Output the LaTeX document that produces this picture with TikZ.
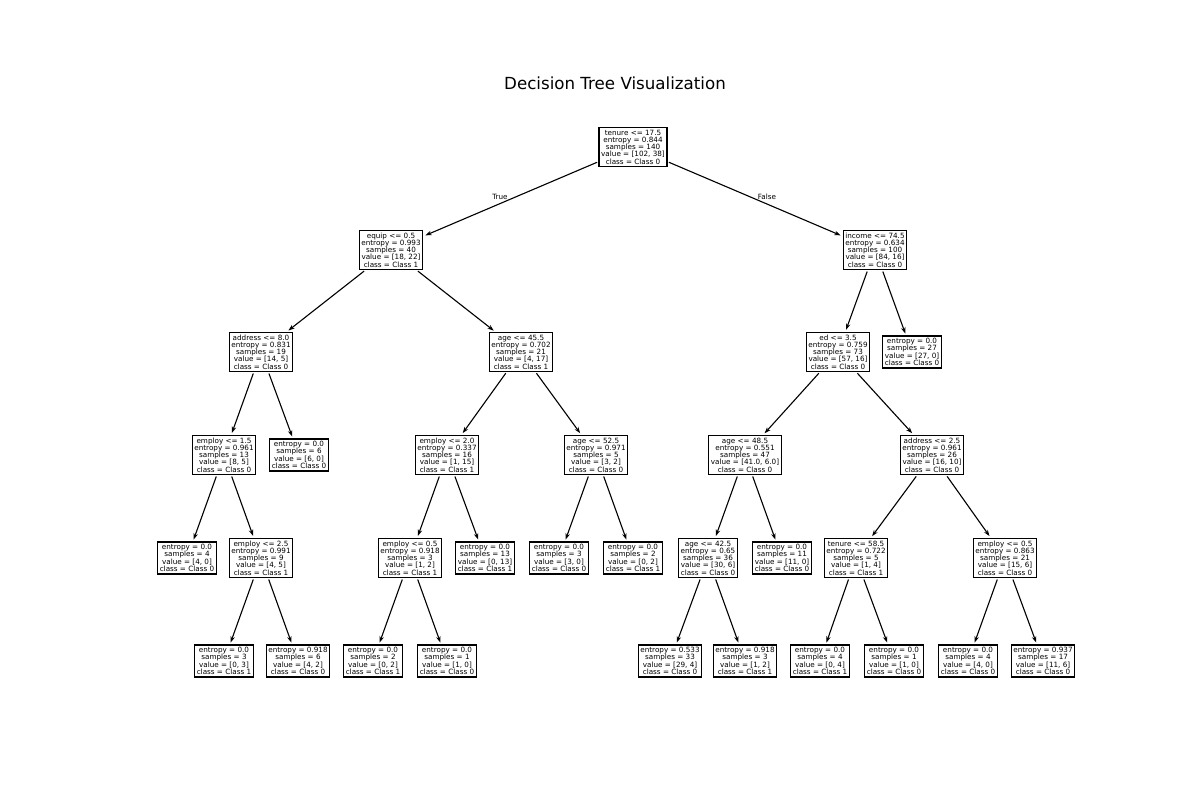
\documentclass[tikz,border=0pt]{standalone}
\usepackage{fontspec}
\setmainfont{DejaVu Sans}
\usetikzlibrary{arrows.meta}
\begin{document}
\begin{tikzpicture}[x=0.72pt,y=-0.72pt,
  tbox/.style={draw=black,line width=0.9pt,fill=white,inner sep=1.6pt,align=center,
    font=\fontsize{5.2}{5.25}\selectfont},
  edge/.style={line width=0.8pt,-{Stealth[length=4.5pt,width=3.2pt]},shorten >=1.5pt,shorten <=1pt},
  elabel/.style={font=\fontsize{5.2}{6}\selectfont,inner sep=0pt}]
\useasboundingbox (0,0) rectangle (1200,800);

\node[font=\fontsize{12}{14}\selectfont] (title) at (615,83) {Decision Tree Visualization};

% level 0
\node[tbox] (n0) at (633,147) {tenure <= 17.5\\entropy = 0.844\\samples = 140\\value = [102, 38]\\class = Class 0};
% level 1
\node[tbox] (n1) at (391,250) {equip <= 0.5\\entropy = 0.993\\samples = 40\\value = [18, 22]\\class = Class 1};
\node[tbox] (n2) at (875,250) {income <= 74.5\\entropy = 0.634\\samples = 100\\value = [84, 16]\\class = Class 0};
% level 2
\node[tbox] (n3) at (261,352) {address <= 8.0\\entropy = 0.831\\samples = 19\\value = [14, 5]\\class = Class 0};
\node[tbox] (n4) at (521,352) {age <= 45.5\\entropy = 0.702\\samples = 21\\value = [4, 17]\\class = Class 1};
\node[tbox] (n5) at (838,352) {ed <= 3.5\\entropy = 0.759\\samples = 73\\value = [57, 16]\\class = Class 0};
\node[tbox] (n6) at (912,352) {entropy = 0.0\\samples = 27\\value = [27, 0]\\class = Class 0};
% level 3
\node[tbox] (n7) at (224,455) {employ <= 1.5\\entropy = 0.961\\samples = 13\\value = [8, 5]\\class = Class 0};
\node[tbox] (n8) at (299,455) {entropy = 0.0\\samples = 6\\value = [6, 0]\\class = Class 0};
\node[tbox] (n9) at (447,455) {employ <= 2.0\\entropy = 0.337\\samples = 16\\value = [1, 15]\\class = Class 1};
\node[tbox] (n10) at (596,455) {age <= 52.5\\entropy = 0.971\\samples = 5\\value = [3, 2]\\class = Class 0};
\node[tbox] (n11) at (745,455) {age <= 48.5\\entropy = 0.551\\samples = 47\\value = [41.0, 6.0]\\class = Class 0};
\node[tbox] (n12) at (932,455) {address <= 2.5\\entropy = 0.961\\samples = 26\\value = [16, 10]\\class = Class 0};
% level 4
\node[tbox] (n13) at (187,558) {entropy = 0.0\\samples = 4\\value = [4, 0]\\class = Class 0};
\node[tbox] (n14) at (261,558) {employ <= 2.5\\entropy = 0.991\\samples = 9\\value = [4, 5]\\class = Class 1};
\node[tbox] (n15) at (410,558) {employ <= 0.5\\entropy = 0.918\\samples = 3\\value = [1, 2]\\class = Class 1};
\node[tbox] (n16) at (485,558) {entropy = 0.0\\samples = 13\\value = [0, 13]\\class = Class 1};
\node[tbox] (n17) at (559,558) {entropy = 0.0\\samples = 3\\value = [3, 0]\\class = Class 0};
\node[tbox] (n18) at (633,558) {entropy = 0.0\\samples = 2\\value = [0, 2]\\class = Class 1};
\node[tbox] (n19) at (708,558) {age <= 42.5\\entropy = 0.65\\samples = 36\\value = [30, 6]\\class = Class 0};
\node[tbox] (n20) at (782,558) {entropy = 0.0\\samples = 11\\value = [11, 0]\\class = Class 0};
\node[tbox] (n21) at (856,558) {tenure <= 58.5\\entropy = 0.722\\samples = 5\\value = [1, 4]\\class = Class 1};
\node[tbox] (n22) at (1005,558) {employ <= 0.5\\entropy = 0.863\\samples = 21\\value = [15, 6]\\class = Class 0};
% level 5
\node[tbox] (n23) at (224,661) {entropy = 0.0\\samples = 3\\value = [0, 3]\\class = Class 1};
\node[tbox] (n24) at (298,661) {entropy = 0.918\\samples = 6\\value = [4, 2]\\class = Class 0};
\node[tbox] (n25) at (373,661) {entropy = 0.0\\samples = 2\\value = [0, 2]\\class = Class 1};
\node[tbox] (n26) at (447,661) {entropy = 0.0\\samples = 1\\value = [1, 0]\\class = Class 0};
\node[tbox] (n27) at (670,661) {entropy = 0.533\\samples = 33\\value = [29, 4]\\class = Class 0};
\node[tbox] (n28) at (745,661) {entropy = 0.918\\samples = 3\\value = [1, 2]\\class = Class 1};
\node[tbox] (n29) at (820,661) {entropy = 0.0\\samples = 4\\value = [0, 4]\\class = Class 1};
\node[tbox] (n30) at (894,661) {entropy = 0.0\\samples = 1\\value = [1, 0]\\class = Class 0};
\node[tbox] (n31) at (968,661) {entropy = 0.0\\samples = 4\\value = [4, 0]\\class = Class 0};
\node[tbox] (n32) at (1043,661) {entropy = 0.937\\samples = 17\\value = [11, 6]\\class = Class 0};

% parent -> child connectors
\foreach \p/\c in {n0/n1,n0/n2,n1/n3,n1/n4,n2/n5,n2/n6,n3/n7,n3/n8,n4/n9,n4/n10,
  n5/n11,n5/n12,n7/n13,n7/n14,n9/n15,n9/n16,n10/n17,n10/n18,n11/n19,n11/n20,
  n12/n21,n12/n22,n14/n23,n14/n24,n15/n25,n15/n26,n19/n27,n19/n28,n21/n29,n21/n30,
  n22/n31,n22/n32}
  \draw[edge] (\p) -- (\c);

% branch labels of the root split
\node[elabel] (ltrue) at (500,197) {True};
\node[elabel] (lfalse) at (767,197) {False};
\end{tikzpicture}
\end{document}
